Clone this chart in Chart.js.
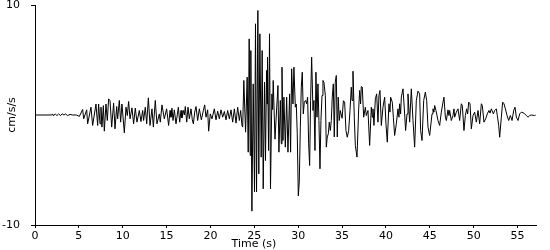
<!DOCTYPE html>
<html>
<head>
<meta charset="utf-8">
<script src="https://cdn.jsdelivr.net/npm/chart.js@4"></script>
<style>
html,body{margin:0;padding:0;background:#fff;}
#wrap{width:550px;height:250px;position:relative;}
</style>
</head>
<body>
<div id="wrap"><canvas id="c"></canvas></div>
<script>
// Time (s) of each vertex
const times = [
0,1.9,2.0,2.1,2.3,2.5,2.7,2.9,3.1,3.3,3.5,3.7,4.0,4.3,4.7,5.0,
5.05,5.43,5.55,5.89,6.0,6.38,6.57,6.95,7.14,7.25,7.41,7.52,7.63,7.79,7.9,8.09,8.24,8.39,8.55,8.74,8.96,9.12,9.31,9.42,9.61,9.76,9.91,
10.18,10.37,10.52,10.67,10.83,11.05,11.24,11.43,11.62,11.89,12.08,12.27,12.38,12.57,12.73,12.92,13.11,13.33,13.49,13.71,13.9,
14.17,14.28,14.47,14.74,15.0,15.23,15.39,15.5,15.61,15.73,15.88,16.07,16.34,16.49,16.64,16.75,16.91,17.02,17.13,17.29,17.44,17.59,
17.78,17.93,18.05,18.2,18.35,18.54,18.73,18.96,19.19,19.34,19.49,19.68,19.79,19.98,20.17,20.44,20.63,20.82,21.01,21.2,21.39,21.58,
21.77,21.96,22.15,22.34,22.53,22.72,22.91,23.1,23.29,23.44,23.59,23.67,
23.8,24.0,24.18,24.3,24.41,24.53,24.6,24.72,24.87,25.02,25.13,25.25,25.4,25.51,25.63,25.78,25.89,26.01,26.16,26.27,26.39,26.45,26.5,
26.62,26.73,26.84,27.0,27.08,27.15,27.35,
27.69,27.8,27.96,28.07,28.15,28.26,28.37,28.53,28.68,28.83,29.02,29.13,29.25,29.4,29.51,29.67,29.78,29.89,30.01,30.12,30.24,30.35,
30.46,30.58,30.69,30.84,30.96,31.07,31.19,31.3,31.41,31.53,31.68,31.79,31.91,32.02,32.14,32.25,32.36,32.48,32.59,32.71,32.82,32.93,
33.09,33.2,33.31,33.43,33.54,33.66,33.77,33.88,34.0,34.11,34.22,34.34,34.45,34.56,34.68,34.79,35.0,35.15,
35.29,35.44,35.59,35.75,35.9,36.05,36.13,36.24,36.39,36.51,36.7,36.89,37.0,37.11,37.19,37.3,37.46,37.65,37.76,37.95,38.14,38.33,
38.44,38.52,38.63,38.79,38.94,39.09,39.2,39.32,39.47,39.66,39.85,40.0,40.15,40.34,40.46,40.53,40.72,40.84,40.99,41.18,41.37,41.48,
41.56,41.67,41.75,41.94,42.13,42.24,42.4,42.51,42.7,42.89,43.08,43.27,43.46,43.65,43.84,43.95,44.11,44.3,44.49,44.64,44.79,44.98,
45.25,45.36,45.47,45.55,45.7,45.93,46.12,46.31,46.5,46.61,46.77,46.88,47.07,47.18,47.26,47.45,47.64,47.75,47.83,48.02,48.21,48.4,
48.59,48.7,48.89,49.05,49.2,49.31,49.43,49.58,49.73,49.92,50.11,50.3,50.49,50.68,50.87,50.98,51.17,51.36,51.55,51.74,51.86,52.01,
52.24,52.39,52.58,52.69,52.85,52.96,53.15,53.3,53.45,53.61,53.8,53.99,54.18,54.37,54.56,54.71,54.86,55.05,55.24,55.43,55.73,56.0,
56.19,56.38,56.57,56.95,57.06
];
// Acceleration (cm/s/s) at each vertex
const accel = [
0,0,0.1,-0.08,0.1,-0.05,0.1,-0.05,0.1,0,0.1,-0.05,0.05,0,0,-0.1,
-0.14,0.5,-0.35,0.47,-0.8,0.71,-0.95,1.0,-0.95,1.0,-0.8,0.71,-1.1,0.86,-1.47,1.0,-0.5,1.47,1.3,-1.1,1.08,-1.26,0.77,-0.35,1.32,-0.65,1.0,
-1.62,0.71,-0.05,1.23,-0.35,0.65,-0.8,0.62,-0.65,0.41,-0.6,0.41,-0.5,0.71,-0.8,1.56,-0.95,0.56,-1.1,1.32,-0.8,
0.1,-0.65,0.92,-0.35,0.56,-0.95,0.41,-0.2,0.62,-0.5,0.47,-0.8,0.71,-0.65,0.41,-0.26,0.41,0.0,0.77,-0.65,0.71,-0.35,
0.56,-0.44,-0.8,0.26,0.77,-0.5,0.56,-0.44,0.41,0.92,-0.2,0.47,-1.47,0.1,-0.35,0.56,-0.44,0.35,-0.35,0.47,-0.2,0.32,
-0.44,0.41,-0.35,0.47,-0.65,0.56,-0.74,0.71,-0.5,0.41,-0.95,-1.1,
3.14,-1.56,3.44,-3.38,6.92,-3.68,5.86,-8.74,2.83,-7.0,8.29,-7.0,9.5,-5.35,7.38,-3.83,5.86,-6.71,2.98,-4.14,4.05,1.0,5.26,
-3.23,7.38,-6.71,1.92,0.5,3.14,-2.2,
2.68,-3.38,1.32,-2.62,4.35,-2.32,1.62,-2.92,1.62,-3.38,1.92,-3.38,4.2,1.0,4.35,0.71,1.0,-1.71,-7.35,-6.1,-1.1,2.53,
3.89,0.1,1.17,1.32,1.02,1.62,-2.62,-4.59,1.32,5.26,0.41,1.32,-3.23,3.89,-0.2,2.83,-0.5,-4.89,-0.5,1.77,3.14,2.98,
1.77,-2.92,-2.0,-1.71,-0.65,-1.41,-0.5,1.62,2.83,-2.0,2.98,3.59,-2.0,1.62,-0.5,0.41,-0.3,1.3,
1.17,-1.41,-2.02,-1.41,0.41,2.53,1.32,3.98,-0.2,-2.77,-3.83,0.56,2.23,1.0,2.59,2.53,-0.2,0.71,-0.05,0.41,-2.77,0.71,
-0.2,0.56,-0.95,1.47,1.92,-0.65,1.77,2.23,-0.95,0.71,1.62,-0.8,-2.47,1.02,0.26,1.62,1.17,-0.2,-1.86,-0.8,0.56,-0.2,
1.02,0.1,1.62,2.38,0.1,-1.41,0.1,1.92,-0.65,2.38,-0.5,-2.92,1.32,2.17,1.92,-1.41,-2.32,1.32,2.08,1.32,-1.1,-1.86,
0.1,0.56,0.26,0.86,0.41,-0.5,-0.95,0.26,1.17,1.62,-0.2,-0.5,0.47,-0.05,0.41,-0.5,-0.05,0.56,-0.2,0.26,0.56,-0.5,
1.02,0.86,-1.41,-0.05,0.56,0.1,1.17,1.02,-1.26,-0.05,0.26,-0.65,0.41,-0.8,1.02,0.86,-0.65,-0.35,0.1,0.41,0.17,0.56,
0.1,0.41,0.56,-0.05,-0.95,-2.02,-0.2,1.17,1.02,0.56,-0.05,-0.5,-0.05,-0.5,0.41,0.71,-0.2,-0.5,0.1,0.26,0.17,-0.05,
-0.2,-0.05,0,-0.05,0
];
const xTickValues = [0,5,10,15,20,25,30,35,40,45,50,55];
const yTickValues = [-10,10];
const xMax = 57.1;
const yLabel = 'cm/s/s';
const xLabel = 'Time (s)';

const points = times.map((t,i)=>({x:t, y:accel[i]}));

Chart.defaults.font.family = '"DejaVu Sans", sans-serif';
Chart.defaults.font.size = 11;
Chart.defaults.color = '#000';

const xTitlePlugin = {
  id:'xTitle',
  afterDraw(chart){
    const ctx = chart.ctx, a = chart.chartArea;
    ctx.save();
    ctx.font = '11px "DejaVu Sans", sans-serif';
    ctx.fillStyle = '#000';
    ctx.textAlign = 'center';
    ctx.textBaseline = 'middle';
    ctx.fillText(xLabel, a.left + (a.right - a.left)*0.437, 244);
    ctx.restore();
  }
};

new Chart(document.getElementById('c'), {
  type:'line',
  data:{datasets:[{data:points, borderColor:'#000', borderWidth:1, pointRadius:0, tension:0, fill:false}]},
  options:{
    responsive:true, maintainAspectRatio:false, animation:false,
    parsing:false, normalized:true,
    layout:{padding:{top:5, right:14, left:0, bottom:0}},
    plugins:{legend:{display:false}, tooltip:{enabled:false}},
    scales:{
      x:{type:'linear', min:0, max:xMax,
         afterBuildTicks:s=>{s.ticks = xTickValues.map(v=>({value:v}));},
         afterFit:s=>{s.height = 25; s.paddingLeft = 0; s.paddingRight = 0;},
         grid:{drawOnChartArea:false, drawTicks:true, tickLength:3, color:'#000'},
         border:{display:true, color:'#000', width:1},
         ticks:{padding:2, maxRotation:0, autoSkip:false}
      },
      y:{type:'linear', min:-10, max:10,
         afterBuildTicks:s=>{s.ticks = yTickValues.map(v=>({value:v}));},
         afterFit:s=>{s.width = 35; s.paddingTop = 0; s.paddingBottom = 0;},
         grid:{drawOnChartArea:false, drawTicks:true, tickLength:4, color:'#000'},
         border:{display:true, color:'#000', width:1},
         ticks:{padding:11},
         title:{display:true, text:yLabel, padding:{top:6,bottom:0}}
      }
    }
  },
  plugins:[xTitlePlugin]
});
</script>
</body>
</html>
